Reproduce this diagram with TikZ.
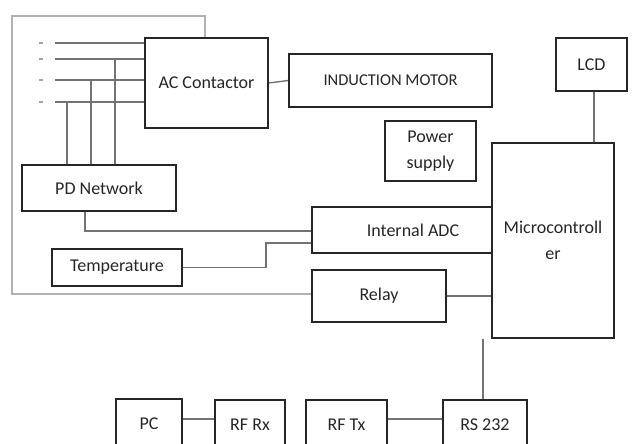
\documentclass[tikz,border=0pt]{standalone}
\usepackage{fontspec}
\setmainfont{Carlito}
\usetikzlibrary{positioning,calc}
\tikzset{
  blk/.style   = {draw=black!85, line width=1.8pt, rectangle, align=center,
                  font=\fontsize{18}{26}\selectfont, text=black!85, inner sep=2pt},
  wire/.style  = {draw=black!55, line width=1.4pt},
  lwire/.style = {draw=black!30, line width=1.3pt},
  tick/.style  = {draw=black!35, line width=1.2pt}
}
\begin{document}
\begin{tikzpicture}[x=1pt, y=-1pt]
\clip (0,0) rectangle (633,444);
\useasboundingbox (0,0) rectangle (633,444);
% ---- blocks ----
\node[blk, minimum width=123pt, minimum height=90pt]  (ac)    at (206.5,83)  {AC Contactor};
\node[blk, minimum width=203pt, minimum height=53pt, font=\fontsize{16.5}{20}\selectfont] (motor) at (390.5,80.5) {INDUCTION MOTOR};
\node[blk, minimum width=71pt,  minimum height=53pt]  (lcd)   at (591.5,64.5) {LCD};
\node[blk, minimum width=91pt,  minimum height=60pt]  (power) at (430.5,151)  {Power\\supply};
\node[blk, minimum width=122pt, minimum height=195pt] (mcu)   at (553,240.5)  {Microcontroll\\er};
\node[blk, minimum width=180pt, minimum height=46pt]  (adc)   at (402,230)    {\hspace*{22pt}Internal ADC};
\node[blk, minimum width=134pt, minimum height=52pt]  (relay) at (379,296)    {Relay};
\node[blk, minimum width=154pt, minimum height=46pt]  (pd)    at (99,188)     {PD Network};
\node[blk, minimum width=130pt, minimum height=37pt]  (temp)  at (117,267.5)  {Temperature};
\node[blk, minimum width=66pt,  minimum height=50pt]  (pc)    at (149,424)    {PC};
\node[blk, minimum width=70pt,  minimum height=50pt]  (rfrx)  at (250,425)    {RF Rx};
\node[blk, minimum width=81pt,  minimum height=50pt]  (rftx)  at (346.5,425)  {RF Tx};
\node[blk, minimum width=84pt,  minimum height=50pt]  (rs)    at (485,425)    {RS 232};

% ---- supply phases ----
\foreach \n/\y in {r/43,y/59,b/80,n/102} {
  \coordinate (ph\n) at (55,\y);
  \draw[tick] (39,\y) -- (43,\y);
  \draw[wire] (ph\n) -- (ph\n -| ac.west);
}
\foreach \n/\x in {n/67,b/91,y/115}
  \draw[wire] (\x,0 |- ph\n) -- (\x,0 |- pd.north);

% ---- loop back to relay ----
\coordinate (lt) at (205,16);
\coordinate (ll) at (12,16);
\coordinate (lb) at (12,294);
\draw[lwire] (lt |- ac.north) -- (lt) -- (ll) -- (lb) -- (lb -| relay.west);

% ---- links ----
\draw[wire] (ac.east) -- (motor.west);
\draw[wire] (lcd.south -| 594,0) -- (mcu.north -| 594,0);
\draw[wire] (85,0 |- pd.south) -- (85,231) -- (adc.west |- 0,231);
\draw[wire] (temp.east) -- (266,0 |- temp.east) -- (266,243) -- (adc.west |- 0,243);
\draw[wire] (relay.east) -- (mcu.west |- relay.east);
\draw[wire] (mcu.south -| 483,0) -- (rs.north -| 483,0);
\draw[wire] (pc.east |- 0,419) -- (rfrx.west |- 0,419);
\draw[wire] (rftx.east |- 0,419) -- (rs.west |- 0,419);
\end{tikzpicture}
\end{document}
